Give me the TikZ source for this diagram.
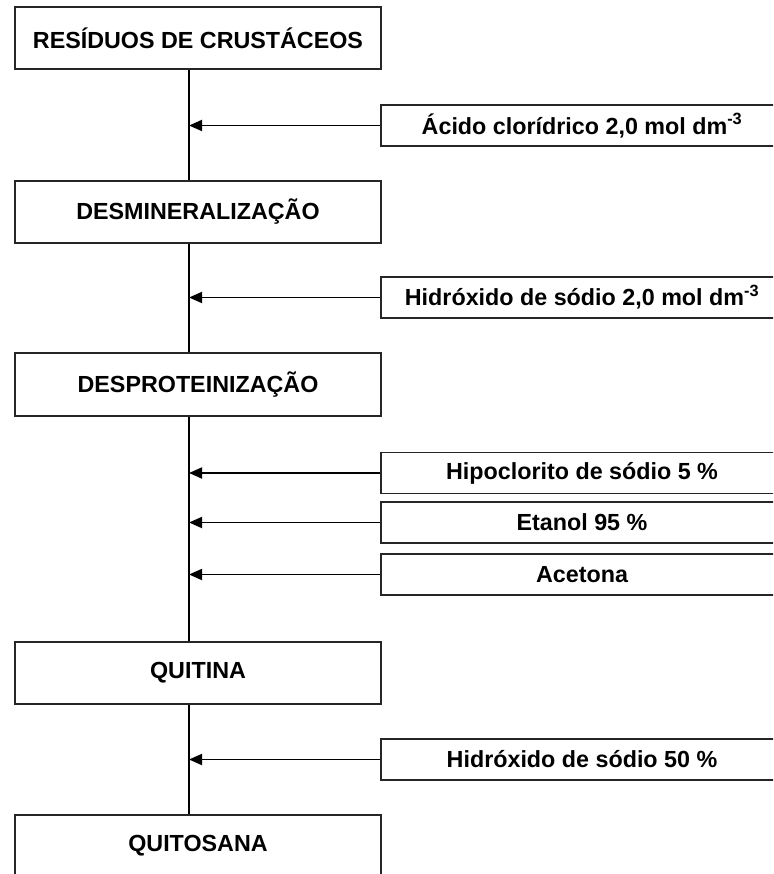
\documentclass[tikz,border=0pt]{standalone}
\usepackage{fontspec}
\setmainfont{Liberation Sans}
\usetikzlibrary{arrows.meta}
\begin{document}
\begin{tikzpicture}[x=1pt,y=-1pt,
  every node/.style={font=\fontsize{23.3}{27}\selectfont\bfseries, text=black, inner sep=0pt},
  mainbox/.style={draw=black!85, line width=1.8pt, minimum width=366pt, minimum height=62pt},
  addbox/.style={draw=black!85, line width=1.8pt, minimum width=402pt, minimum height=41pt},
  link/.style={draw=black, line width=1.8pt},
  feed/.style={draw=black, line width=1.8pt, -{Triangle[length=13pt,width=11pt]}}]
\useasboundingbox (0,0) rectangle (773,874);
\clip (0,0) rectangle (773,874);
\coordinate (spine) at (189,0);
% main chain
\node[mainbox] (b1) at (198,38) {RESÍDUOS DE CRUSTÁCEOS};
\node[mainbox] (b2) at (198,212) {DESMINERALIZAÇÃO};
\node[mainbox, minimum height=63pt] (b3) at (198,384.5) {DESPROTEINIZAÇÃO};
\node[mainbox] (b4) at (198,673) {QUITINA};
\node[mainbox] (b5) at (198,846) {QUITOSANA};
% reagents
\node[addbox] (r1) at (582,125.5) {Ácido clorídrico 2,0 mol dm\textsuperscript{-3}};
\node[addbox] (r2) at (582,297.5) {Hidróxido de sódio 2,0 mol dm\textsuperscript{-3}};
\node[addbox] (r3) at (582,473) {Hipoclorito de sódio 5 \%};
\node[addbox] (r4) at (582,522.5) {Etanol 95 \%};
\node[addbox] (r5) at (582,574.5) {Acetona};
\node[addbox] (r6) at (582,759.5) {Hidróxido de sódio 50 \%};
% spine
\draw[link] (b1.south -| spine) -- (b2.north -| spine);
\draw[link] (b2.south -| spine) -- (b3.north -| spine);
\draw[link] (b3.south -| spine) -- (b4.north -| spine);
\draw[link] (b4.south -| spine) -- (b5.north -| spine);
% feeds
\foreach \r in {r1,r2,r3,r4,r5,r6}
  \draw[feed] (\r.west) -- (\r.west -| spine);
\end{tikzpicture}
\end{document}
